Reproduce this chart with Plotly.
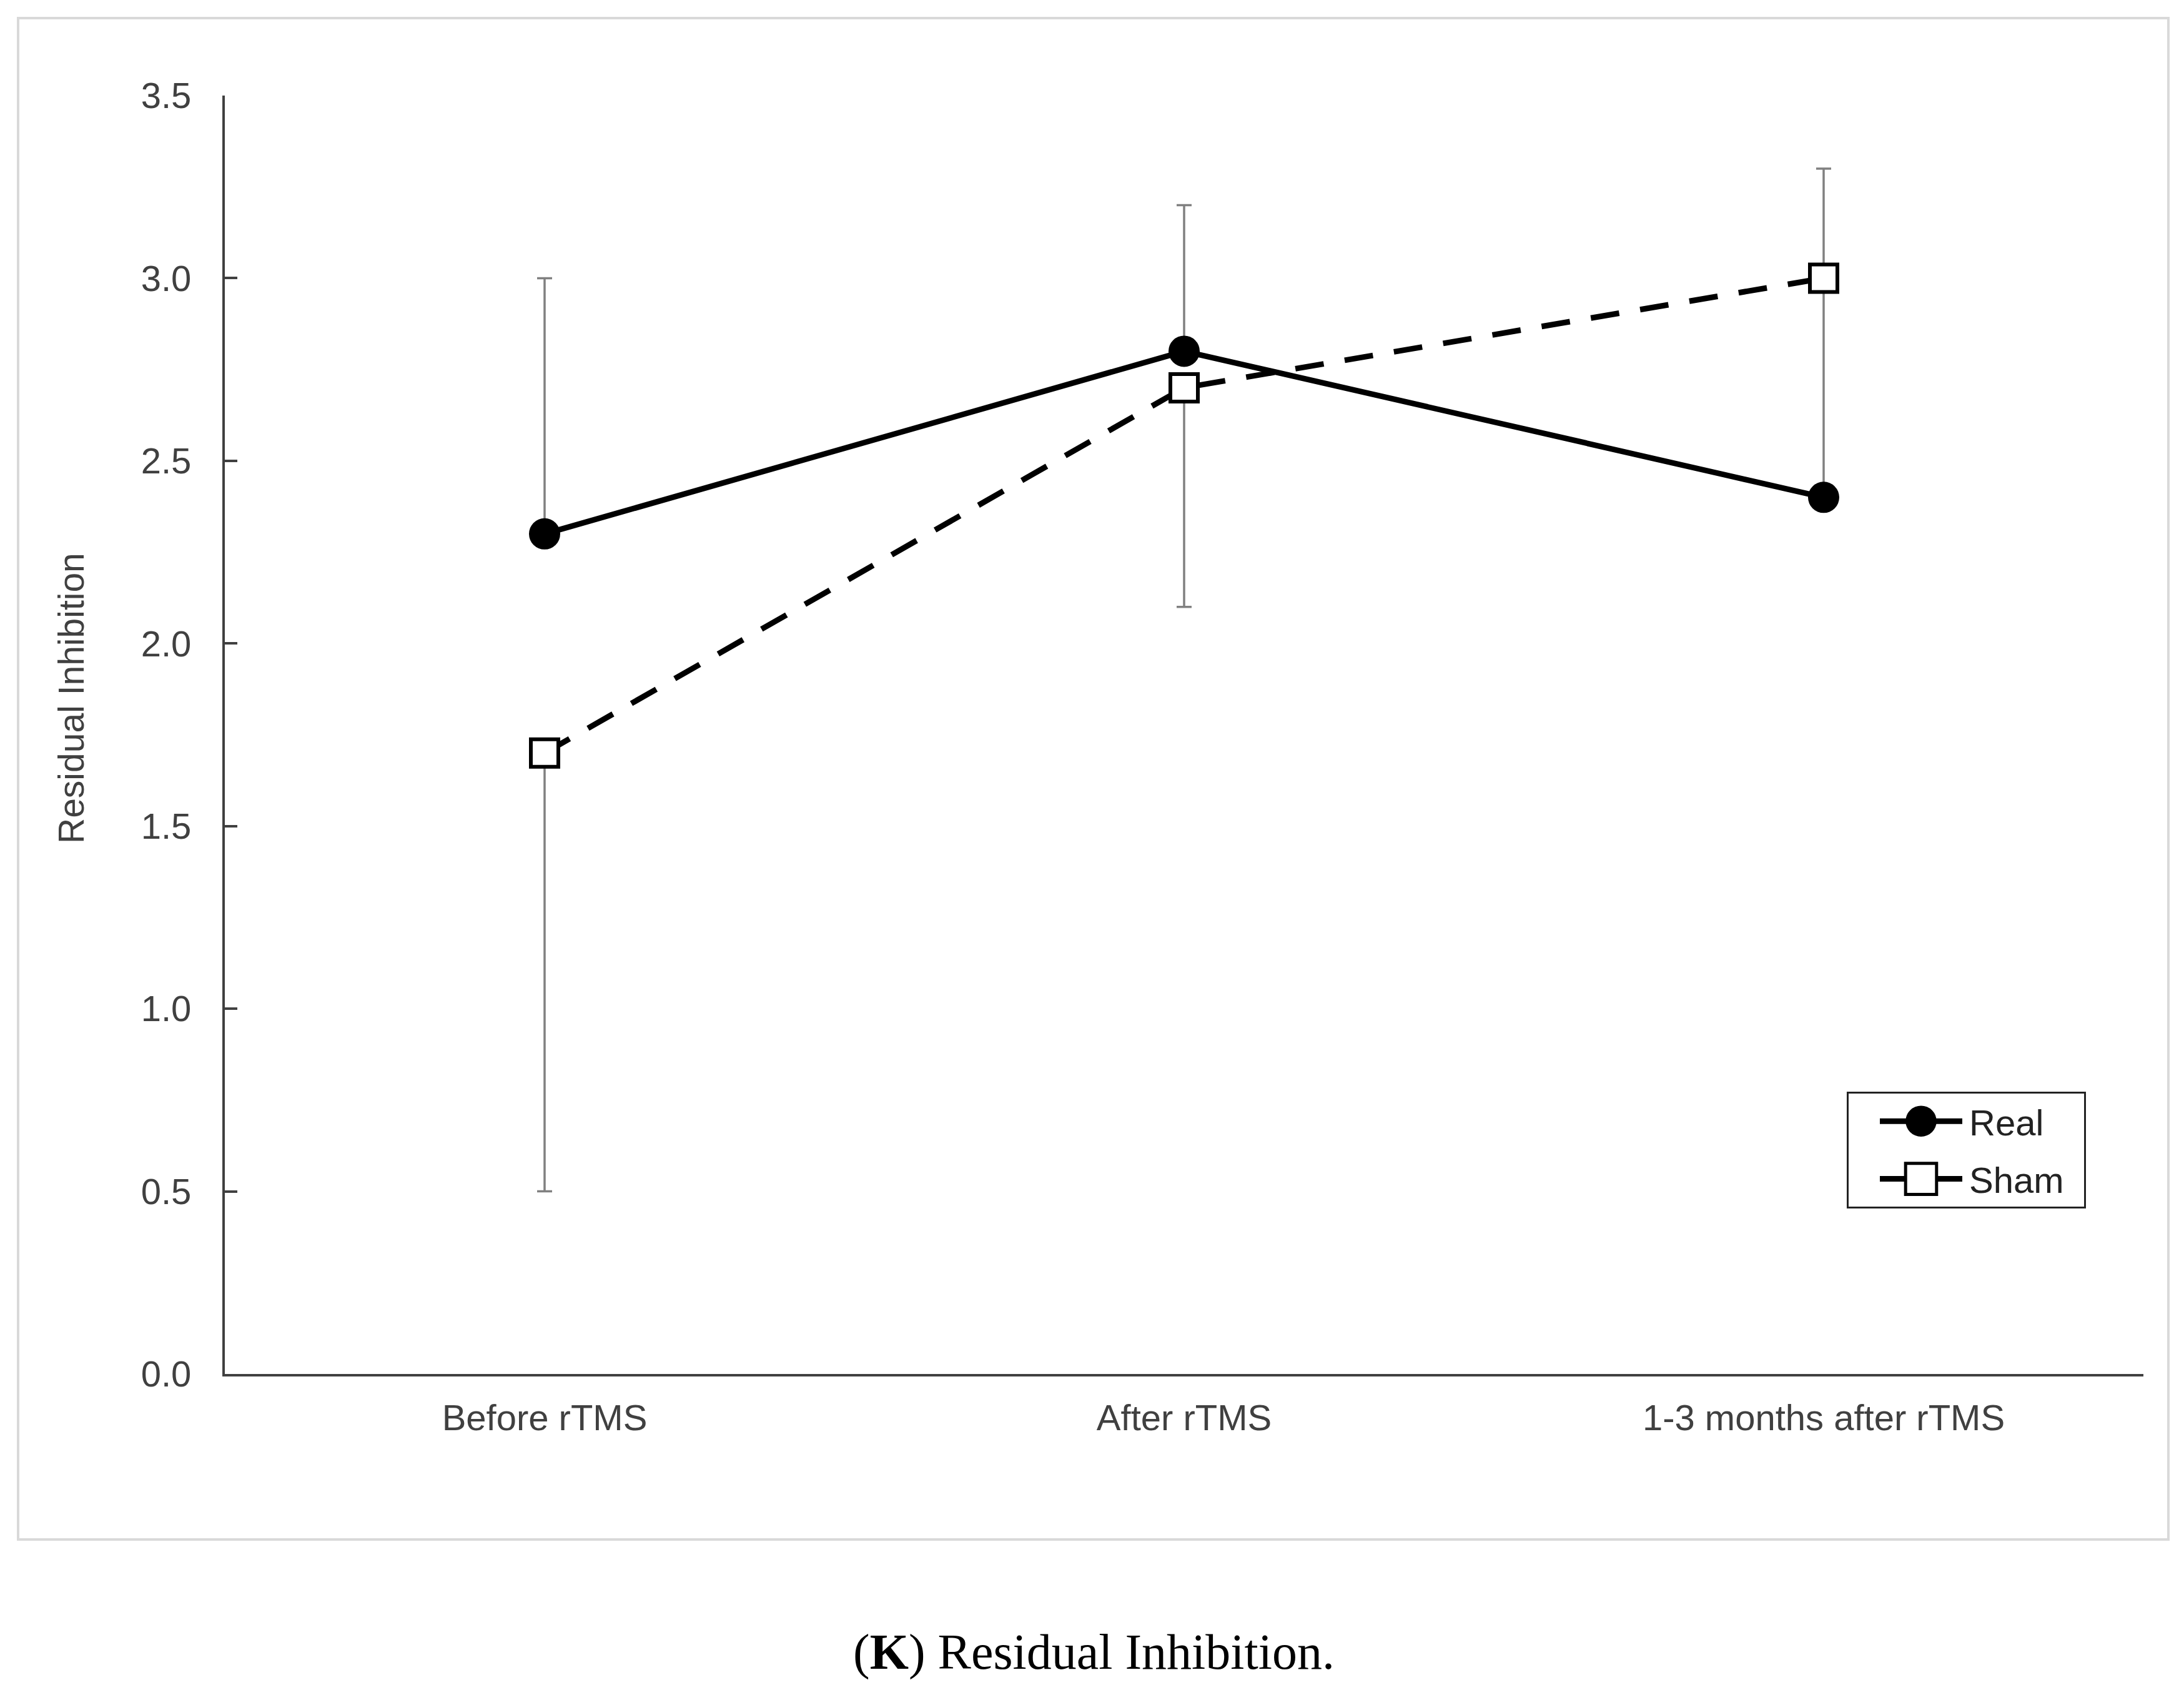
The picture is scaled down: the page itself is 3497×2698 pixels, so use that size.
import plotly.graph_objects as go

# ---- data ----
categories = ["Before rTMS", "After rTMS", "1-3 months after rTMS"]
real_values = [2.3, 2.8, 2.4]
real_err_plus = [0.7, 0.4, 0.9]
sham_values = [1.7, 2.7, 3.0]
sham_err_minus = [1.2, 0.6, 0.0]
y_tick_values = [0.0, 0.5, 1.0, 1.5, 2.0, 2.5, 3.0, 3.5]
y_title = "Residual Inhibition"
caption = "(<b>K</b>) Residual Inhibition."

# ---- layout geometry (pixels, page coordinates) ----
W, H = 3497, 2698
OFF = 8  # default page body margin
PL, PR, PT, PB = 360 - OFF, 3432 - OFF, 153 - OFF, 2200 - OFF
pw, ph = PR - PL, PB - PT

def px(x):
    return (x - OFF - PL) / pw

def py(y):
    return (PB - (y - OFF)) / ph

AXIS = "#404040"
ERR = "#808080"
FONT = "Liberation Sans, Arial, sans-serif"

fig = go.Figure()

fig.add_trace(go.Scatter(
    x=categories, y=real_values, name="Real", mode="lines+markers",
    line=dict(color="black", width=9),
    marker=dict(symbol="circle", size=50, color="black"),
    error_y=dict(type="data", symmetric=False, array=real_err_plus,
                 arrayminus=[0] * len(real_values),
                 color=ERR, thickness=3.5, width=12),
    legendgroup="a",
))

fig.add_trace(go.Scatter(
    x=categories, y=sham_values, name="Sham", mode="lines+markers",
    line=dict(color="black", width=9, dash="46px,34px"),
    marker=dict(symbol="square", size=44, color="white",
                line=dict(color="black", width=6)),
    error_y=dict(type="data", symmetric=False, array=[0] * len(sham_values),
                 arrayminus=sham_err_minus,
                 color=ERR, thickness=3.5, width=12),
    legendgroup="b",
))

fig.update_layout(
    width=W - OFF, height=H - OFF,
    margin=dict(l=PL, r=(W - OFF) - PR, t=PT, b=(H - OFF) - PB, pad=0),
    paper_bgcolor="white", plot_bgcolor="white",
    font=dict(family=FONT, size=58, color=AXIS),
    showlegend=True,
    legend=dict(
        x=px(2957), y=py(1748), xanchor="left", yanchor="top",
        bgcolor="white", bordercolor="#222222", borderwidth=3,
        font=dict(family=FONT, size=58, color="#222222"),
        traceorder="grouped", tracegroupgap=14,
        itemwidth=183, itemsizing="trace",
    ),
    xaxis=dict(
        type="category", range=[-0.5, len(categories) - 0.5],
        showline=True, linecolor=AXIS, linewidth=4,
        showgrid=False, zeroline=False, ticks="",
        ticklabelstandoff=16,
        tickfont=dict(family=FONT, size=58, color=AXIS),
    ),
    yaxis=dict(
        range=[0, 3.5], tickvals=y_tick_values, tickformat=".1f",
        showline=True, linecolor=AXIS, linewidth=4,
        showgrid=False, zeroline=False,
        ticks="inside", ticklen=20, tickwidth=4, tickcolor=AXIS,
        ticklabelstandoff=38,
        tickfont=dict(family=FONT, size=58, color=AXIS),
    ),
)

# outer light frame
fig.add_shape(type="rect", xref="paper", yref="paper",
              x0=px(29), x1=px(3472), y0=py(2465), y1=py(29),
              line=dict(color="#d9d9d9", width=4), layer="below")

# y-axis title
fig.add_annotation(text=y_title, xref="paper", yref="paper",
                   x=px(114), y=py(1118), xanchor="center", yanchor="middle",
                   textangle=-90, showarrow=False,
                   font=dict(family=FONT, size=57, color=AXIS))

# caption
fig.add_annotation(text=caption, xref="paper", yref="paper",
                   x=px(1751), y=py(2645), xanchor="center", yanchor="middle",
                   showarrow=False,
                   font=dict(family="Liberation Serif, Times New Roman, serif",
                             size=80, color="black"))

# enlarge the legend symbols to match the Excel-style legend
post_js = """
var gd = document.getElementById('{plot_id}');
function fixLegend(){
  gd.querySelectorAll('.legend .traces').forEach(function(t){
    t.querySelectorAll('.legendlines path').forEach(function(p){
      p.setAttribute('d','M50,0h132');
      p.style.strokeDasharray = 'none';
    });
    t.querySelectorAll('.legendpoints path.scatterpts').forEach(function(p){
      p.setAttribute('transform','translate(116,0) scale(3.1)');
      p.style.vectorEffect = 'non-scaling-stroke';
    });
  });
  var bg = gd.querySelector('.legend rect.bg');
  if (bg) {
    var w = parseFloat(bg.getAttribute('width'));
    if (w && w < 380) { bg.setAttribute('width', 380); }
  }
}
fixLegend();
gd.on('plotly_afterplot', fixLegend);
"""

fig.write_html("out.html", post_script=post_js)
